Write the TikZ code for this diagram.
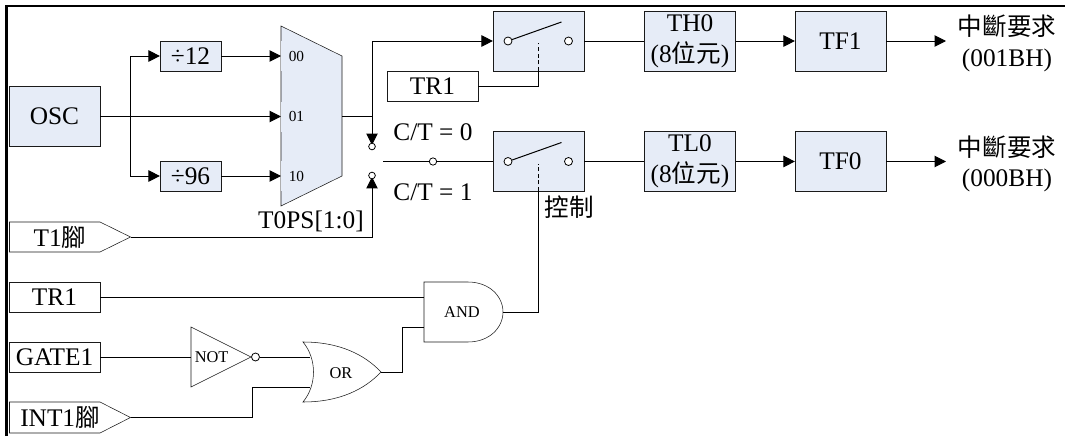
\documentclass[tikz,border=0pt]{standalone}
\usepackage{fontspec}
\setmainfont{Liberation Serif}
\newfontfamily\cjk{Noto Sans CJK TC}[Scale=0.97]
\newcommand{\fbig}{\fontsize{19pt}{22pt}\selectfont}
\newcommand{\fgate}{\fontsize{12.3pt}{14pt}\selectfont}
\newcommand{\fmux}{\fontsize{11.5pt}{13pt}\selectfont}
\usetikzlibrary{arrows.meta}
\definecolor{boxfill}{HTML}{E6ECF7}
\definecolor{edge}{HTML}{1A1A1A}
\tikzset{
 x=0.75pt,y=-0.75pt,
 line width=0.75pt,
 wire/.style={draw=black,line width=0.75pt},
 arrowed/.style={wire,-{Triangle[length=8.6pt,width=8.6pt]}},
 box/.style={draw=edge,fill=boxfill,inner sep=0pt,align=center,font=\fbig,minimum width=68pt,minimum height=45pt},
 small box/.style={draw=edge,fill=boxfill,inner sep=0pt,font=\fbig,minimum width=45.5pt,minimum height=22.5pt},
 plain box/.style={draw=edge,fill=white,inner sep=0pt,font=\fbig,minimum width=68pt,minimum height=22.5pt},
 txt/.style={inner sep=0pt,font=\fbig,align=center},
 gatetxt/.style={inner sep=0pt,font=\fgate},
 pin/.style={draw=black,fill=white,line width=0.6pt,circle,inner sep=0pt},
 port/.style={draw=edge,fill=white},
 muxlabel/.style={inner sep=0pt,fill=boxfill,font=\fmux,anchor=west,minimum height=22.5pt},
}
\begin{document}
\begin{tikzpicture}
\useasboundingbox (0,0) rectangle (1065,439);
\fill[white] (0,0) rectangle (1065,439);
% frame
\draw[line width=1.6pt] (6.5,436) -- (6.5,6) -- (1065,6);
% left boxes
\node[box] (osc) at (54.5,116.5) {OSC};
\node[small box] (d12) at (190.5,56) {÷12};
\node[small box] (d96) at (190.5,176) {÷96};
% mux
\path[fill=boxfill] (281,26) -- (342,56) -- (342,176) -- (281,206) -- cycle;
\draw[edge] (281,26) -- (342,56) -- (342,176) -- (281,206) -- cycle;
\node[muxlabel] (m0) at (280.5,56) {\hspace{6pt}00};
\node[muxlabel] (m1) at (280.5,116.5) {\hspace{6pt}01};
\node[muxlabel] (m2) at (280.5,176) {\hspace{6pt}10};
\coordinate (mo) at (342,116.5);
\node[txt] (tops) at (311,221) {T0PS[1:0]};
% switches
\node[box] (sw1) at (538.5,41) {};
\node[box] (sw2) at (538.5,161.5) {};
\foreach \s/\yy in {a/41,b/161.5}{
  \node[pin,minimum size=6pt] (\s l) at (508,\yy) {};
  \node[pin,minimum size=6pt] (\s r) at (568.5,\yy) {};
}
\coordinate (ba) at (561.5,22);
\coordinate (bb) at (561.5,142.5);
\draw[wire] (al) -- (ba);
\draw[wire] (bl) -- (bb);
% counters
\node[box] (th) at (690,41) {TH0\\[1pt](8{\cjk 位元})};
\node[box] (tl) at (690,161.5) {TL0\\[1pt](8{\cjk 位元})};
\node[box] (tf1) at (840.5,41) {TF1};
\node[box] (tf0) at (840.5,161.5) {TF0};
\coordinate (q1) at (946,41);
\coordinate (q0) at (946,161.5);
\node[txt] (r1) at (1007,43.5) {{\cjk 中斷要求}\\[1pt](001BH)};
\node[txt] (r0) at (1007,164) {{\cjk 中斷要求}\\[1pt](000BH)};
% TR1 upper
\node[plain box] (tra) at (432.5,86) {TR1};
% labels
\node[txt] (c0) at (433,132) {C/T = 0};
\node[txt] (c1) at (433,192) {C/T = 1};
\node[inner sep=0pt,font=\fbig\cjk] (ctl) at (569,207) {控制};
% pins
\path[port] (9.5,222) -- (100,222) -- (130.5,237) -- (100,252) -- (9.5,252) -- cycle;
\node[txt] (t1) at (60,237) {T1{\cjk 腳}};
\coordinate (t1o) at (130.5,237);
\node[plain box] (trb) at (54.5,297) {TR1};
\node[plain box] (gate) at (54.5,357) {GATE1};
\path[port] (9.5,402) -- (100,402) -- (130.5,417.5) -- (100,433) -- (9.5,433) -- cycle;
\node[txt] (int) at (60,417.5) {INT1{\cjk 腳}};
\coordinate (into) at (130.5,417.5);
% gates
\draw[edge,fill=white] (424,282) -- (468,282) .. controls (489,282) and (503,296) .. (503,312) .. controls (503,328) and (489,342) .. (468,342) -- (424,342) -- cycle;
\coordinate (ando) at (503,312);
\node[gatetxt] (andt) at (462,312) {AND};
\draw[edge,fill=white] (303,342) .. controls (340,342) and (365,355) .. (381,372) .. controls (365,389) and (340,402) .. (303,402) .. controls (317,385) and (317,359) .. (303,342) -- cycle;
\coordinate (oro) at (381,372);
\node[gatetxt] (ort) at (341,373) {OR};
\draw[edge,fill=white] (191,327) -- (251,357) -- (191,387) -- cycle;
\node[gatetxt,anchor=west] (nott) at (194.5,357) {NOT};
\node[pin,minimum size=6pt] (bub) at (255.5,357) {};
% wires
\draw[arrowed] (osc.east) -- (281,116.5);
\draw[arrowed] (130,176) -- (130,56) -- (d12.west);
\draw[arrowed] (130,176) -- (d96.west);
\draw[arrowed] (d12.east) -- (281,56);
\draw[arrowed] (d96.east) -- (281,176);
\draw[wire] (mo) -- (372,116.5);
\draw[arrowed] (372,116.5) -- (372,41) -- (sw1.west);
\draw[arrowed] (372,116.5) -- (372,145);
\draw[arrowed] (t1o) -- (372,237) -- (372,177);
\node[pin,minimum size=5pt] (p0) at (372,146.5) {};
\node[pin,minimum size=5pt] (p1) at (372,175.5) {};
\coordinate (sp) at (383,161.5);
\draw[wire] (sp) -- (sw2.west);
\node[pin,minimum size=5.5pt] (pm) at (433,161.5) {};
\draw[wire] (sw1.east) -- (th.west);
\draw[wire] (sw2.east) -- (tl.west);
\draw[arrowed] (th.east) -- (tf1.west);
\draw[arrowed] (tl.east) -- (tf0.west);
\draw[arrowed] (tf1.east) -- (q1);
\draw[arrowed] (tf0.east) -- (q0);
\draw[wire] (tra.east) -- (538,86) -- (538,71);
\draw[wire,densely dashed] (538,71) -- (538,43);
\draw[wire] (ando) -- (538,312) -- (538,191);
\draw[wire,densely dashed] (538,191) -- (538,164);
\draw[wire] (trb.east) -- (424,297);
\draw[wire] (gate.east) -- (191,357);
\draw[wire] (bub.east) -- (309.5,357);
\draw[wire] (into) -- (252,417.5) -- (252,387) -- (309.5,387);
\draw[wire] (oro) -- (402.5,372) -- (402.5,327) -- (424,327);
\end{tikzpicture}
\end{document}
